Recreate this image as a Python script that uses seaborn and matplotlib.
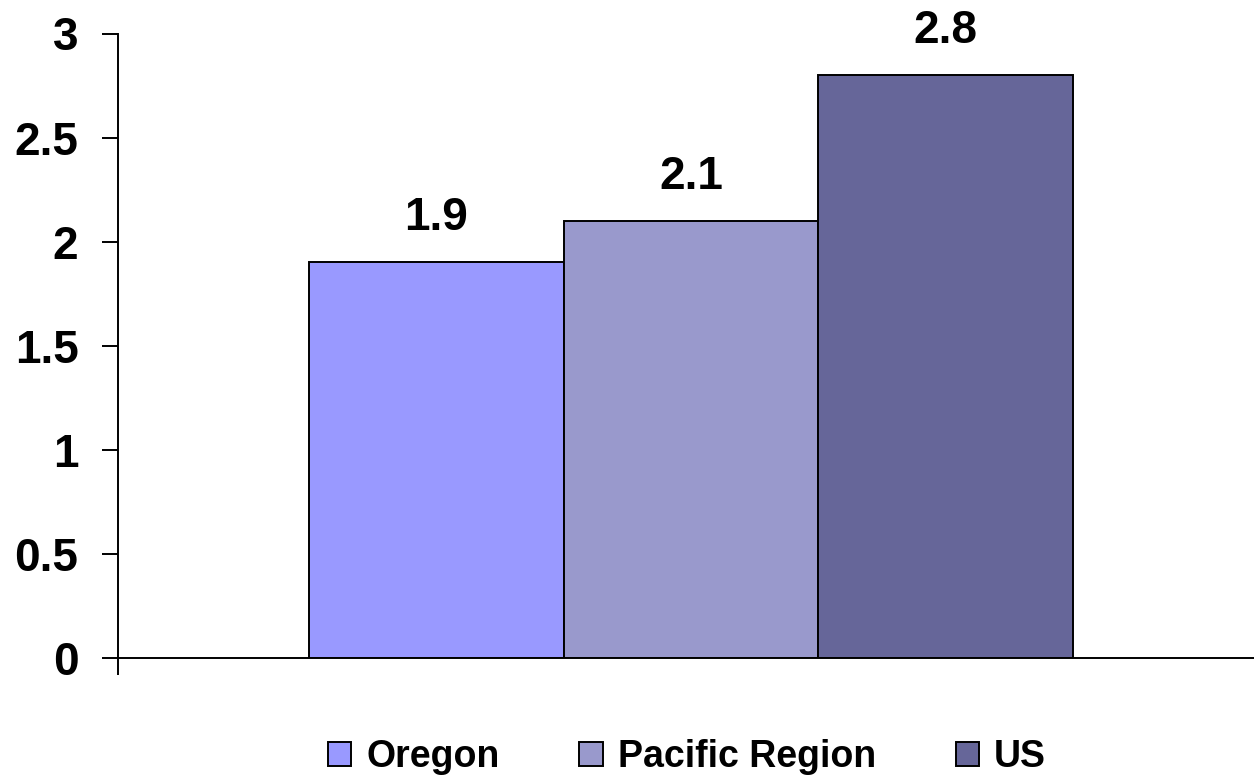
import matplotlib
matplotlib.use("Agg")
import matplotlib.pyplot as plt
from matplotlib.patches import Patch
import pandas as pd
import seaborn as sns

# Data
regions = ["Oregon", "Pacific Region", "US"]
values = [1.9, 2.1, 2.8]
colors = ["#9999FF", "#9999CC", "#666699"]
yticks = [0, 0.5, 1, 1.5, 2, 2.5, 3]
ytick_labels = ["0", "0.5", "1", "1.5", "2", "2.5", "3"]

sns.set_style("white")
plt.rcParams["font.family"] = ["Liberation Sans", "DejaVu Sans"]
plt.rcParams["font.weight"] = "bold"
for key in ("text.color", "axes.labelcolor", "xtick.color", "ytick.color",
            "axes.edgecolor"):
    plt.rcParams[key] = "black"

df = pd.DataFrame({"group": [""] * len(regions), "region": regions, "value": values})

W, H = 1254, 775
fig = plt.figure(figsize=(W / 100, H / 100), dpi=100)
ax = fig.add_axes([118 / W, 1 - 658 / H, 1 - 118 / W, (658 - 33.5) / H])

sns.barplot(
    data=df, x="group", y="value", hue="region", hue_order=regions,
    palette=colors, saturation=1, width=0.673, gap=0,
    edgecolor="black", linewidth=1.4, legend=False, ax=ax,
)

# category band, nudged so the group sits slightly right of centre
x_lo, x_hi = -0.5044, 0.4956
ax.set_xlim(x_lo, x_hi)
ax.set_ylim(0, 3)
ax.set_xlabel("")
ax.set_ylabel("")

# Axes styling
for side in ("top", "right"):
    ax.spines[side].set_visible(False)
for side in ("left", "bottom"):
    ax.spines[side].set_linewidth(1.4)
    ax.spines[side].set_color("black")

ax.set_yticks(yticks)
ax.set_yticklabels(ytick_labels, fontsize=33, fontweight="bold", color="black")
ax.tick_params(axis="y", direction="out", length=11.5, width=1.4, pad=17,
               left=True, color="black")
ax.set_xticks([x_lo])
ax.set_xticklabels([""])
ax.tick_params(axis="x", direction="out", length=12, width=1.4,
               bottom=True, color="black")

# Value labels above bars
for container in ax.containers:
    ax.bar_label(container, fmt="%.1f", padding=16, fontsize=33,
                 fontweight="bold", color="black")

# Legend below the plot
handles = [Patch(facecolor=c, edgecolor="black", linewidth=1.4) for c in colors]
leg = fig.legend(
    handles, regions, loc="center", bbox_to_anchor=(687 / W, 1 - 757 / H),
    ncol=3, frameon=False, handlelength=0.62, handleheight=0.6,
    handletextpad=0.4, columnspacing=2.13, borderaxespad=0, borderpad=0,
    prop={"weight": "bold", "size": 27},
)
for t in leg.get_texts():
    t.set_color("black")

fig.savefig("out.png", dpi=100)
